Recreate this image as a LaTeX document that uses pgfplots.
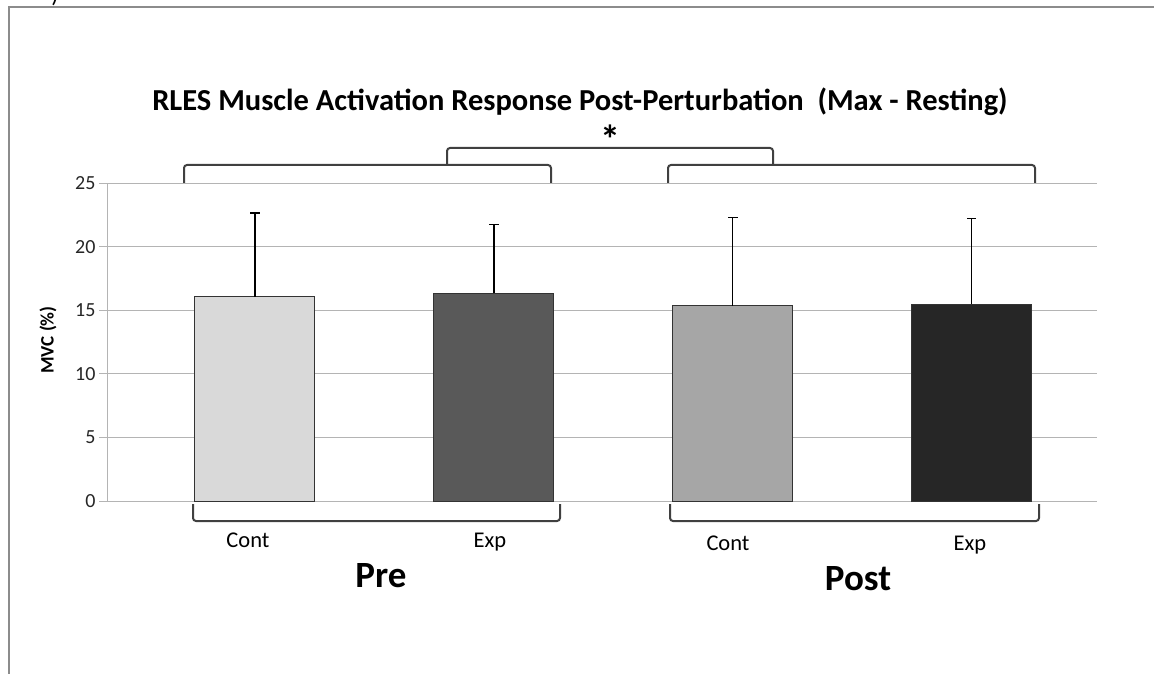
\documentclass[border=0pt]{standalone}
\usepackage{fontspec}
\setmainfont{Carlito}
\usepackage{pgfplots}
\pgfplotsset{compat=1.18}

\definecolor{barA}{HTML}{D9D9D9}
\definecolor{barB}{HTML}{595959}
\definecolor{barC}{HTML}{A6A6A6}
\definecolor{barD}{HTML}{262626}
\definecolor{gridc}{HTML}{B4B4B4}
\definecolor{brk}{HTML}{404040}

\begin{document}
\begin{tikzpicture}
\useasboundingbox (0pt,0pt) rectangle (1154pt,673pt);
% chart frame (left and top edges only are visible)
\draw[gray!90, line width=2pt] (8.5pt,-10pt) -- (8.5pt,665.5pt) -- (1170pt,665.5pt);
% cut-off panel letter above the frame
\node[anchor=south, inner sep=0pt, font=\fontsize{24}{28}\selectfont] at (55pt,667pt) {)};

\begin{axis}[
  at={(107pt,172pt)}, anchor=south west,
  scale only axis, width=990pt, height=318pt,
  xmin=-0.619, xmax=3.524, ymin=0, ymax=25,
  xtick=\empty, ytick={0,5,...,25},
  axis lines=left, axis line style={-, draw=gridc, line width=1pt},
  ymajorgrids, grid style={gridc, line width=1pt},
  tick align=outside, major tick length=8pt, tick style={gridc, line width=1pt},
  yticklabel style={font=\fontsize{20}{24}\selectfont, text=black!85},
  /pgf/number format/assume math mode=true,
  clip=false,
  error bars/error bar style={black, line width=1.3pt},
  error bars/error mark options={black, line width=1.3pt, mark size=4.7pt, rotate=90},
]
\addplot[ybar, bar width=120pt, fill=barA, draw=black!80, line width=1pt,
  error bars/.cd, y dir=plus, y explicit] coordinates {(0,16.07) +- (0,6.56)};
\addplot[ybar, bar width=120pt, fill=barB, draw=black!80, line width=1pt,
  error bars/.cd, y dir=plus, y explicit] coordinates {(1,16.34) +- (0,5.41)};
\addplot[ybar, bar width=120pt, fill=barC, draw=black!80, line width=1pt,
  error bars/.cd, y dir=plus, y explicit] coordinates {(2,15.34) +- (0,6.96)};
\addplot[ybar, bar width=120pt, fill=barD, draw=black!80, line width=1pt,
  error bars/.cd, y dir=plus, y explicit] coordinates {(3,15.45) +- (0,6.75)};
\end{axis}

% y label
\node[rotate=90] at (48pt,333pt) {\fontsize{19}{22}\selectfont\bfseries MVC (\%)};

% title and significance mark
\node[font=\bfseries\fontsize{30.5}{34}\selectfont] at (580pt,571pt)
  {RLES Muscle Activation Response Post-Perturbation\ \ (Max - Resting)};
\node[font=\bfseries\fontsize{40}{44}\selectfont] at (610pt,534pt) {*};

% brackets above the bars
\begin{scope}[draw=brk, line width=2pt, rounded corners=3pt]
\draw (184pt,490pt) -- (184pt,508pt) -- (551pt,508pt) -- (551pt,490pt);
\draw (668pt,490pt) -- (668pt,508pt) -- (1035pt,508pt) -- (1035pt,490pt);
\draw (447pt,508pt) -- (447pt,525pt) -- (773pt,525pt) -- (773pt,508pt);
% brackets below the bars
\draw (193pt,169pt) -- (193pt,152pt) -- (560pt,152pt) -- (560pt,169pt);
\draw (670pt,169pt) -- (670pt,152pt) -- (1039pt,152pt) -- (1039pt,169pt);
\end{scope}

% category labels
\begin{scope}[font=\fontsize{22.5}{26}\selectfont]
\node[anchor=base] at (248pt,126pt) {Cont};
\node[anchor=base] at (490pt,126pt) {Exp};
\node[anchor=base] at (728pt,123pt) {Cont};
\node[anchor=base] at (970pt,123pt) {Exp};
\end{scope}
\node[anchor=base, font=\bfseries\fontsize{37}{42}\selectfont] at (381pt,86pt) {Pre};
\node[anchor=base, font=\bfseries\fontsize{37}{42}\selectfont] at (858pt,83pt) {Post};
\end{tikzpicture}
\end{document}
